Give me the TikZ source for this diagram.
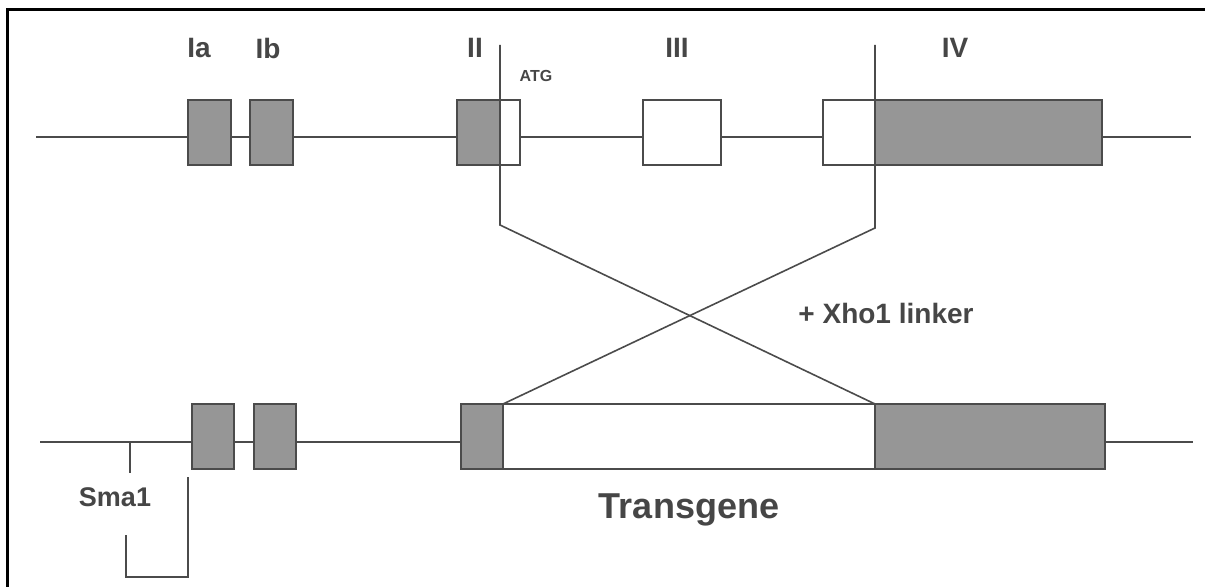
\documentclass[tikz,border=0pt]{standalone}
\usepackage{fontspec}
\setmainfont{Liberation Sans}
\definecolor{linecol}{RGB}{75,75,75}
\definecolor{shade}{RGB}{150,150,150}
\definecolor{txtcol}{RGB}{70,70,70}
\begin{document}
\begin{tikzpicture}[x=0.5pt,y=-0.5pt,
  exon/.style={draw=linecol, line width=0.9pt, fill=shade, minimum height=32.5pt, inner sep=0pt, outer sep=0pt},
  wexon/.style={exon, fill=white},
  wire/.style={draw=linecol, line width=0.8pt},
  lbl/.style={text=txtcol, inner sep=0pt, font=\fontsize{14}{14}\selectfont\bfseries},
  frame/.style={draw=black, line width=1.5pt}]
\useasboundingbox (0,0) rectangle (1205,587);
% frame
\coordinate (f1) at (7,587);
\coordinate (f2) at (7,10);
\coordinate (f3) at (1205,10);
\draw[frame] (f1) -- (f2) -- (f3);
% top backbone
\coordinate (ts) at (36,137);
\coordinate (te) at (1191,137);
\draw[wire] (ts) -- (te);
% top exons
\node[exon, minimum width=21.5pt] (tIa) at (209.5,132.5) {};
\node[exon, minimum width=21.5pt] (tIb) at (271.5,132.5) {};
\node[exon, minimum width=21.5pt] (tIIa) at (478.5,132.5) {};
\node[wexon, minimum width=10pt] (tIIb) at (510,132.5) {};
\node[wexon, minimum width=39pt] (tIII) at (682,132.5) {};
\node[wexon, minimum width=26pt] (tIVa) at (849,132.5) {};
\node[exon, minimum width=113.5pt] (tIVb) at (988.5,132.5) {};
% bottom backbone
\coordinate (bs) at (40,442);
\coordinate (be) at (1193,442);
\draw[wire] (bs) -- (be);
% bottom exons
\node[exon, minimum width=21pt] (bIa) at (213,436.5) {};
\node[exon, minimum width=21pt] (bIb) at (275,436.5) {};
\node[exon, minimum width=21pt] (bII) at (482,436.5) {};
\node[wexon, minimum width=186pt] (bT) at (689,436.5) {};
\node[exon, minimum width=115pt] (bIV) at (990,436.5) {};
% crossing lines
\coordinate (c1top) at (500,45);
\coordinate (c1bend) at (500,225);
\coordinate (c2top) at (875,45);
\coordinate (c2bend) at (875,228);
\draw[wire] (c1top) -- (c1bend) -- (bIV.north west);
\draw[wire] (c2top) -- (c2bend) -- (bT.north west);
% Sma1 marks
\coordinate (s1) at (130,442);
\coordinate (s2) at (130,473);
\draw[wire] (s1) -- (s2);
\coordinate (k1) at (126,535);
\coordinate (k2) at (126,577);
\coordinate (k3) at (188,577);
\coordinate (k4) at (188,477);
\draw[wire] (k1) -- (k2) -- (k3) -- (k4);
% labels
\node[lbl] (lIa) at (199,48) {Ia};
\node[lbl] (lIb) at (268,48) {Ib};
\node[lbl] (lII) at (475,48) {II};
\node[lbl, font=\fontsize{8}{8}\selectfont\bfseries] (lATG) at (536,76) {ATG};
\node[lbl] (lIII) at (677,48) {III};
\node[lbl] (lIV) at (955,48) {IV};
\node[lbl] (lX) at (886,313) {+ Xho1 linker};
\node[lbl, font=\fontsize{13.5}{13.5}\selectfont\bfseries] (lS) at (115,497) {Sma1};
\node[lbl, font=\fontsize{18}{18}\selectfont\bfseries] (lT) at (689,510) {Transgene};
\end{tikzpicture}
\end{document}
